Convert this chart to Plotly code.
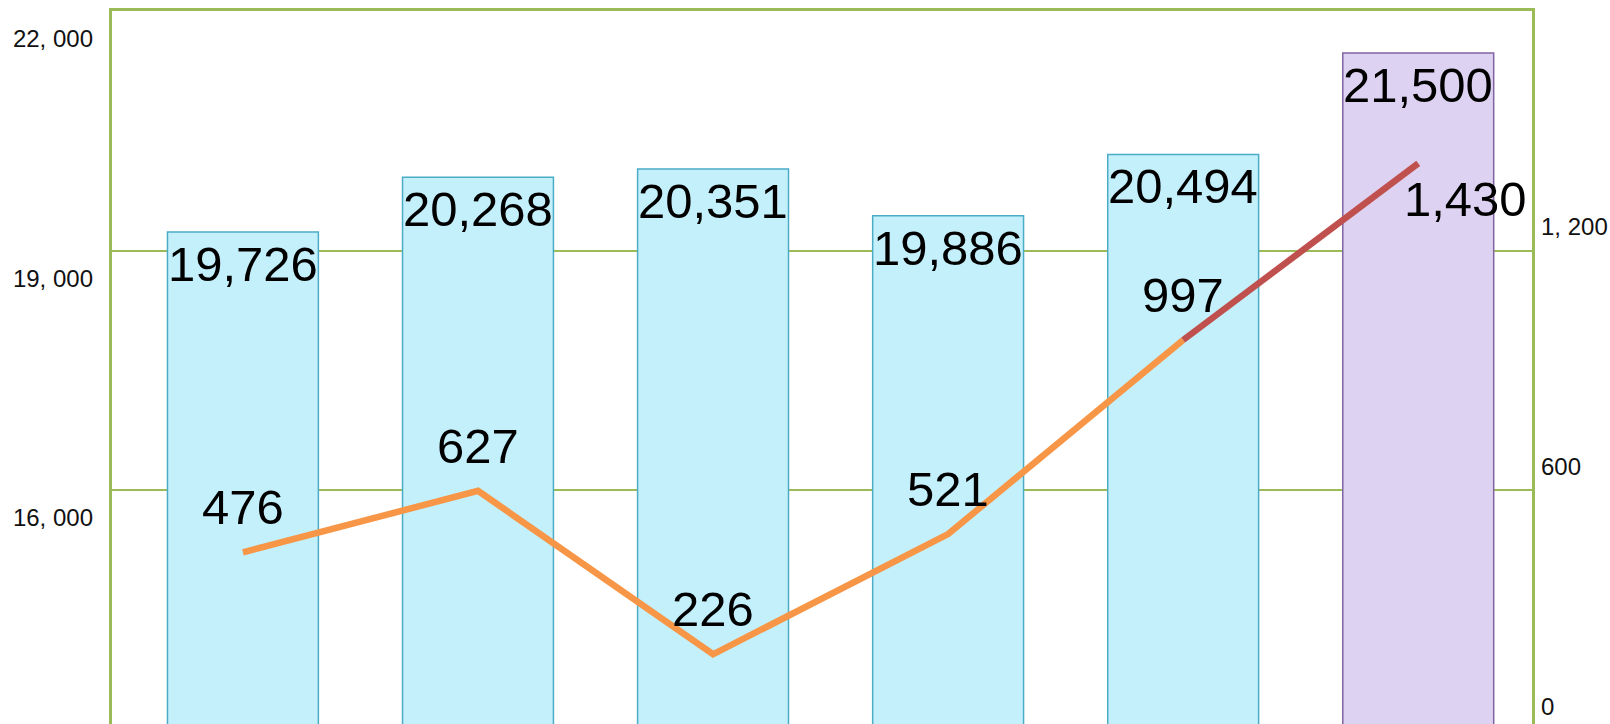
import plotly.graph_objects as go

# ---- data ----
categories = ["P1", "P2", "P3", "P4", "P5", "P6"]
bar_values = [19726, 20268, 20351, 19886, 20494, 21500]
line_values = [476, 627, 226, 521, 997, 1430]
left_tick_vals = [16000, 19000, 22000]
left_tick_text = ["16, 000", "19, 000", "22, 000"]
right_tick_vals = [0, 600, 1200]
right_tick_text = ["0", "600", "1, 200"]
grid_vals = [600, 1200]

# ---- styles ----
GREEN = "#9BBB59"
CYAN_FILL = "#C4F0FC"
CYAN_LINE = "#4BACC6"
PURPLE_FILL = "#DDD2F1"
PURPLE_LINE = "#8064A2"
ORANGE = "#F79646"
RED = "#C0504D"
FONT = "Liberation Sans, Arial, sans-serif"

bar_colors = [CYAN_FILL] * 5 + [PURPLE_FILL]
bar_lines = [CYAN_LINE] * 5 + [PURPLE_LINE]

fig = go.Figure()
fig.add_trace(go.Bar(
    x=categories, y=bar_values, yaxis="y",
    marker=dict(color=bar_colors, line=dict(color=bar_lines, width=1.5)),
    showlegend=False, hoverinfo="skip",
))
fig.add_trace(go.Scatter(
    x=categories[:5], y=line_values[:5], yaxis="y2", mode="lines",
    line=dict(color=ORANGE, width=6.5), showlegend=False,
))
fig.add_trace(go.Scatter(
    x=categories[4:], y=line_values[4:], yaxis="y2", mode="lines",
    line=dict(color=RED, width=6.5), showlegend=False,
))
# invisible helpers so the label / grid axes get drawn
for ax, val in (("y3", left_tick_vals[0]), ("y4", right_tick_vals[0]), ("y5", grid_vals[0])):
    fig.add_trace(go.Scatter(
        x=[categories[0]], y=[val], yaxis=ax, mode="markers",
        marker=dict(opacity=0, size=1), hoverinfo="skip", showlegend=False,
    ))

annotations = []
for c, v in zip(categories, bar_values):
    annotations.append(dict(
        x=c, y=v, xref="x", yref="y", text=f"{v:,}", showarrow=False,
        yanchor="middle", xanchor="center", yshift=-32,
        font=dict(family=FONT, size=49, color="#000000"),
    ))
for i, (c, v) in enumerate(zip(categories, line_values)):
    last = i == len(line_values) - 1
    annotations.append(dict(
        x=c, y=v, xref="x", yref="y2", text=f"{v:,}", showarrow=False,
        yanchor="middle", xanchor="center",
        yshift=-36 if last else 45, xshift=47 if last else 0,
        font=dict(family=FONT, size=49, color="#000000"),
    ))

tick_font = dict(family=FONT, size=24, color="#111111")

fig.update_layout(
    width=1610, height=724,
    margin=dict(l=112, r=78, t=11, b=0, pad=0),
    paper_bgcolor="white", plot_bgcolor="white",
    bargap=0.358,
    annotations=annotations,
    xaxis=dict(type="category", range=[-0.557, 5.484], side="top",
               showticklabels=False, ticks="", showgrid=False, zeroline=False,
               showline=True, linecolor=GREEN, linewidth=2.5),
    yaxis=dict(range=[14850, 21916], showticklabels=False, ticks="",
               showgrid=False, zeroline=False,
               showline=True, linecolor=GREEN, linewidth=2.5),
    yaxis2=dict(overlaying="y", side="right", anchor="x", range=[55, 1804],
                showticklabels=False, ticks="", showgrid=False, zeroline=False,
                showline=True, linecolor=GREEN, linewidth=2.5),
    yaxis3=dict(overlaying="y", side="left", anchor="x", range=[13420, 22351],
                tickvals=left_tick_vals, ticktext=left_tick_text,
                tickfont=tick_font, ticks="", ticklabelstandoff=18,
                showgrid=False, zeroline=False, showline=False),
    yaxis4=dict(overlaying="y", side="right", anchor="x", range=[-42.5, 1740],
                tickvals=right_tick_vals, ticktext=right_tick_text,
                tickfont=tick_font, ticks="", ticklabelstandoff=8,
                showgrid=False, zeroline=False, showline=False),
    yaxis5=dict(overlaying="y", side="right", anchor="x", range=[13.8, 1800],
                tickvals=grid_vals, showticklabels=False, ticks="",
                showgrid=True, gridcolor=GREEN, gridwidth=2,
                zeroline=False, showline=False),
)

fig.write_html("out.html", config={"displayModeBar": False},
               post_script="document.body.style.margin='0';")
